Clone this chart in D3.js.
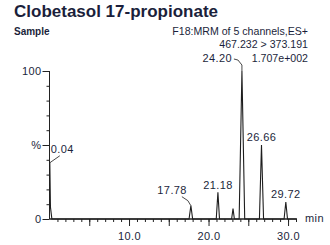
<!DOCTYPE html>
<html>
<head>
<meta charset="utf-8">
<script src="https://cdn.jsdelivr.net/npm/d3@7"></script>
<style>
  html, body { margin: 0; padding: 0; background: #fff; }
  svg text { font-family: "Liberation Sans", Arial, sans-serif; fill: #1b1f3b; }
</style>
</head>
<body>
<div id="chart"></div>
<script>
// chromatogram trace (time in min, intensity in %)
const traceTime = [0, 0.04, 0.12, 0.3, 17.55, 17.78, 18.0, 20.97, 21.18, 21.38, 22.9, 23.08, 23.25, 23.85, 24.2, 24.55, 26.4, 26.66, 26.92, 29.5, 29.72, 29.93, 31.1];
const traceVal  = [38, 38, 8, 0, 0, 9, 0, 0, 18, 0, 0, 7, 0, 0, 100, 0, 0, 50, 0, 0, 11.5, 0, 0];

// labelled peaks
const peakTimes = [0.04, 17.78, 21.18, 24.20, 26.66, 29.72];
const peakHeights = [38, 9, 18, 100, 50, 11.5];
const peakNames = ['0.04', '17.78', '21.18', '24.20', '26.66', '29.72'];

// axis ticks
const xMinorTicks = d3.range(1, 32);
const xMajorTicks = [5, 10, 15, 20, 25, 30];
const xLabelled = [10, 20, 30];
const yMinorTicks = [10, 20, 30, 40, 60, 70, 80, 90];
const yMajorTicks = [0, 50, 100];
const yTickLabels = ['0', '%', '100'];

const title = 'Clobetasol 17-propionate';
const headerLeft = 'Sample';
const headerRight = ['F18:MRM of 5 channels,ES+', '467.232 > 373.191', '1.707e+002'];

const width = 330, height = 245;
const svg = d3.select('#chart').append('svg')
  .attr('width', width).attr('height', height);

const x = d3.scaleLinear().domain([0, 31.1]).range([49.5, 296.8]);
const y = d3.scaleLinear().domain([0, 100]).range([219, 71]);

const small = { size: '11px', ls: '0.4px' };

svg.append('text').attr('x', 14).attr('y', 17)
  .style('font-size', '17px').style('font-weight', 'bold')
  .text(title);
svg.append('text').attr('x', 14).attr('y', 35)
  .style('font-size', '10px').style('font-weight', 'bold')
  .text(headerLeft);
svg.selectAll('.hdr').data(headerRight).enter().append('text')
  .attr('class', 'hdr')
  .attr('x', 308)
  .attr('y', (d, i) => [35, 48, 62][i])
  .attr('text-anchor', 'end')
  .style('font-size', '10.6px')
  .text(d => d);

// x axis
const xMinor = d3.axisBottom(x).tickValues(xMinorTicks).tickSize(3).tickFormat('');
const xMajor = d3.axisBottom(x).tickValues(xMajorTicks).tickSize(7)
  .tickFormat(d => xLabelled.includes(d) ? d.toFixed(1) : '');

const gx = svg.append('g').attr('transform', `translate(0,${y(0)})`);
gx.append('g').call(xMinor);
gx.append('g').call(xMajor);
gx.selectAll('.domain').attr('d', `M${x(0)},0H${x(31.1)}`);
gx.selectAll('line, path').attr('stroke', '#222');
gx.selectAll('text')
  .attr('y', 13)
  .style('font-size', small.size).style('letter-spacing', small.ls)
  .style('fill', '#1b1f3b');

svg.append('text').attr('x', 305).attr('y', 222)
  .style('font-size', small.size).style('letter-spacing', small.ls)
  .text('min');

// y axis
const yMinor = d3.axisLeft(y).tickValues(yMinorTicks).tickSize(3).tickFormat('');
const yMajor = d3.axisLeft(y).tickValues(yMajorTicks).tickSize(7)
  .tickFormat((d, i) => yTickLabels[i]);
const gy = svg.append('g').attr('transform', `translate(${x(0)},0)`);
gy.append('g').call(yMinor);
gy.append('g').call(yMajor);
gy.selectAll('.domain').attr('d', `M0,${y(0)}V${y(100)}`);
gy.selectAll('line, path').attr('stroke', '#222');
gy.selectAll('text')
  .attr('x', -8)
  .style('font-size', small.size).style('letter-spacing', small.ls)
  .style('fill', '#1b1f3b');

// trace
const pts = traceTime.map((t, i) => [t, traceVal[i]]);
svg.append('path')
  .datum(pts)
  .attr('fill', 'none')
  .attr('stroke', '#1e1e1e')
  .attr('stroke-width', 1.1)
  .attr('d', d3.line().x(d => x(d[0])).y(d => y(d[1])));

// peak labels: anchor, text offset, leader offsets relative to apex
const labelLayout = [
  { anchor: 'start', dx: 1, dy: -10, leader: [[10, -7], [0, 0]] },
  { anchor: 'end', dx: -4, dy: -12, leader: [[-9, -9], [-3, -5], [0, 0]] },
  { anchor: 'middle', dx: 0, dy: -3, leader: null },
  { anchor: 'end', dx: -10, dy: -9, leader: [[-8, -12], [-4, -11], [0, -6], [0, 0]] },
  { anchor: 'middle', dx: 0, dy: -4, leader: null },
  { anchor: 'middle', dx: 0, dy: -4, leader: null }
];

const peaks = peakTimes.map((t, i) => ({
  px: x(t), py: y(peakHeights[i]), name: peakNames[i], lay: labelLayout[i]
}));

const pg = svg.selectAll('.peak').data(peaks).enter().append('g').attr('class', 'peak');
pg.append('text')
  .attr('x', d => d.px + d.lay.dx)
  .attr('y', d => d.py + d.lay.dy)
  .attr('text-anchor', d => d.lay.anchor)
  .style('font-size', small.size).style('letter-spacing', small.ls)
  .text(d => d.name);
pg.filter(d => d.lay.leader)
  .append('path')
  .attr('fill', 'none')
  .attr('stroke', '#333')
  .attr('stroke-width', 0.9)
  .attr('d', d => d3.line()(d.lay.leader.map(o => [d.px + o[0], d.py + o[1]])));
</script>
</body>
</html>
